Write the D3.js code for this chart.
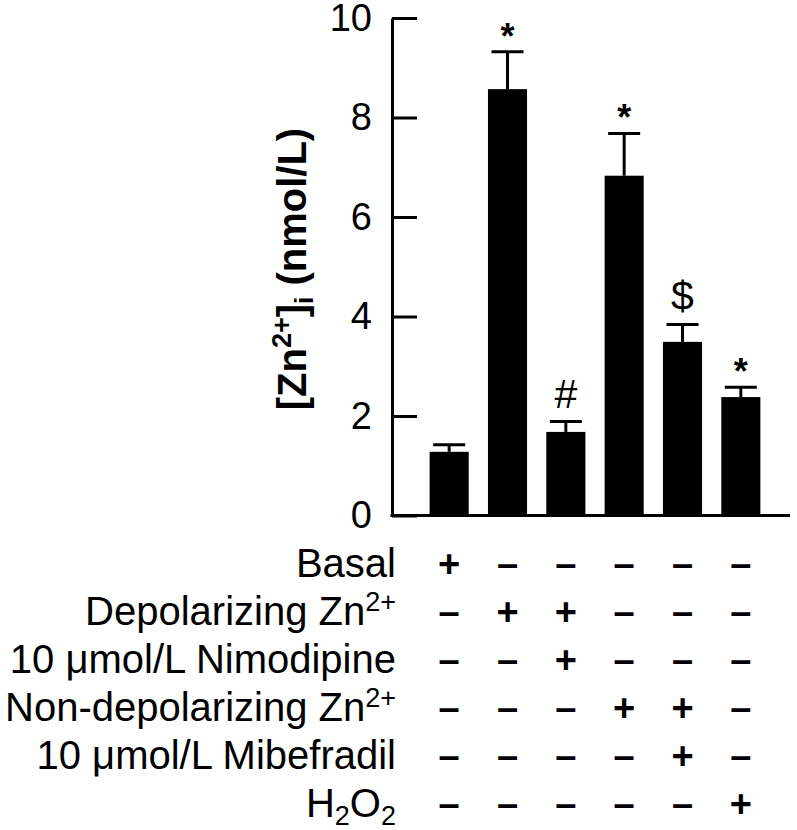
<!DOCTYPE html>
<html>
<head>
<meta charset="utf-8">
<script src="https://cdn.jsdelivr.net/npm/d3@7"></script>
<style>
  body { margin: 0; background: #fff; }
  svg { display: block; }
  text { font-family: "Liberation Sans", Arial, sans-serif; fill: #000; }
  .axis text { font-size: 38px; }
  .axis path, .axis line { stroke: #000; stroke-width: 3px; }
</style>
</head>
<body>
<script>
// bar groups, left to right
var groups = ["g1", "g2", "g3", "g4", "g5", "g6"];
var means = [1.28, 8.57, 1.68, 6.83, 3.49, 2.38];
var sems = [0.14, 0.75, 0.21, 0.85, 0.35, 0.20];
var marks = ["", "*", "#", "*", "$", "*"];
var yTicks = [0, 2, 4, 6, 8, 10];

// treatment table under the bars; ^{..} superscript, _{..} subscript
var rowLabels = [
  "Basal",
  "Depolarizing Zn^{2+}",
  "10 \u03bcmol/L Nimodipine",
  "Non-depolarizing Zn^{2+}",
  "10 \u03bcmol/L Mibefradil",
  "H_{2}O_{2}"
];
var rowFlags = [
  "+-----",
  "-++---",
  "--+---",
  "---++-",
  "----+-",
  "-----+"
];

var width = 797, height = 830;

var svg = d3.select("body").append("svg")
    .attr("width", width)
    .attr("height", height);

var x = d3.scaleBand()
    .domain(groups)
    .range([420, 770])
    .paddingInner(0.33)
    .paddingOuter(0.165);

var y = d3.scaleLinear()
    .domain([0, 10])
    .range([515.5, 18]);

var axisX = 392;

// y axis, ticks point inward
svg.append("g")
    .attr("class", "axis")
    .attr("transform", "translate(" + axisX + ",0)")
    .call(d3.axisLeft(y)
        .tickValues(yTicks)
        .tickSizeInner(-25)
        .tickSizeOuter(0)
        .tickPadding(20)
        .tickFormat(d3.format("d")));

// baseline
svg.append("line")
    .attr("x1", axisX - 1.5)
    .attr("x2", 790)
    .attr("y1", y(0))
    .attr("y2", y(0))
    .attr("stroke", "#000")
    .attr("stroke-width", 3);

function richText(sel, str, sup, sub) {
  var parts = str.split(/(\^\{[^}]*\}|_\{[^}]*\})/).filter(function(p) { return p.length; });
  var shift = 0;
  parts.forEach(function(p) {
    var t = sel.append("tspan");
    var target = 0;
    if (p[0] == "^") { target = -sup.dy; t.style("font-size", sup.size + "px"); p = p.slice(2, -1); }
    else if (p[0] == "_") { target = sub.dy; t.style("font-size", sub.size + "px"); p = p.slice(2, -1); }
    t.attr("dy", target - shift).text(p);
    shift = target;
  });
}

// y label
var ylab = svg.append("text")
    .attr("transform", "translate(306,269) rotate(-90)")
    .attr("text-anchor", "middle")
    .style("font-size", "40px")
    .style("font-weight", "bold");
richText(ylab, "[Zn^{2+}]_{i} (nmol/L)", {size: 27, dy: 15}, {size: 26, dy: 7});

// bars
svg.append("g").selectAll("rect")
    .data(groups)
    .enter().append("rect")
    .attr("x", function(d) { return x(d); })
    .attr("y", function(d, i) { return y(means[i]); })
    .attr("width", x.bandwidth())
    .attr("height", function(d, i) { return y(0) - y(means[i]); })
    .attr("fill", "#000");

// error bars (upper only)
var capW = 32;
var err = svg.append("g").attr("stroke", "#000").attr("stroke-width", 3);
err.selectAll("line.v")
    .data(groups)
    .enter().append("line")
    .attr("class", "v")
    .attr("x1", function(d) { return x(d) + x.bandwidth() / 2; })
    .attr("x2", function(d) { return x(d) + x.bandwidth() / 2; })
    .attr("y1", function(d, i) { return y(means[i]); })
    .attr("y2", function(d, i) { return y(means[i] + sems[i]); });
err.selectAll("line.cap")
    .data(groups)
    .enter().append("line")
    .attr("class", "cap")
    .attr("x1", function(d) { return x(d) + x.bandwidth() / 2 - capW / 2; })
    .attr("x2", function(d) { return x(d) + x.bandwidth() / 2 + capW / 2; })
    .attr("y1", function(d, i) { return y(means[i] + sems[i]); })
    .attr("y2", function(d, i) { return y(means[i] + sems[i]); });

// significance marks
var markGap = {"*": 3, "#": 13, "$": 14};
svg.append("g").selectAll("text")
    .data(groups)
    .enter().append("text")
    .attr("x", function(d) { return x(d) + x.bandwidth() / 2; })
    .attr("y", function(d, i) { return y(means[i] + sems[i]) - (markGap[marks[i]] || 0); })
    .attr("text-anchor", "middle")
    .style("font-size", function(d, i) { return marks[i] == "*" ? "36px" : "41px"; })
    .style("font-weight", function(d, i) { return marks[i] == "*" ? "bold" : "normal"; })
    .text(function(d, i) { return marks[i]; });

// treatment table
var rowY = d3.scalePoint()
    .domain(d3.range(rowLabels.length))
    .range([577, 817]);

var table = svg.append("g");
table.selectAll("text.lab")
    .data(rowLabels)
    .enter().append("text")
    .attr("class", "lab")
    .attr("x", 396)
    .attr("y", function(d, i) { return rowY(i); })
    .attr("text-anchor", "end")
    .style("font-size", "40px")
    .each(function(d) { richText(d3.select(this), d, {size: 27, dy: 14}, {size: 27, dy: 8}); });

rowFlags.forEach(function(flags, r) {
  table.selectAll("text.f" + r)
      .data(groups)
      .enter().append("text")
      .attr("class", "f" + r)
      .attr("x", function(d) { return x(d) + x.bandwidth() / 2; })
      .attr("y", rowY(r))
      .attr("text-anchor", "middle")
      .style("font-size", "38px")
      .style("font-weight", "bold")
      .text(function(d, i) { return flags[i] == "+" ? "+" : "\u2013"; });
});
</script>
</body>
</html>
